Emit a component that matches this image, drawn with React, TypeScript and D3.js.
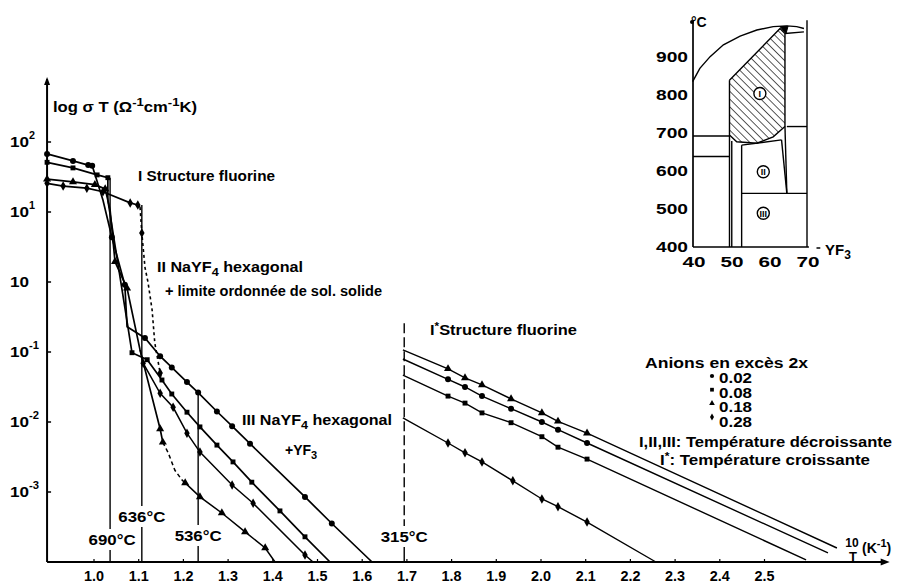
import React from "react";
import * as d3 from "d3";

type Pt = [number, number, number]; // [10^3/T (K^-1), log10(σT), 1 = plotted symbol]
type CT = [number, number]; // [mol % YF3, °C]

const FONT = "'Liberation Sans', Arial, Helvetica, sans-serif";

// ---------- main chart axes ----------
const X_TICKS = [1.0, 1.1, 1.2, 1.3, 1.4, 1.5, 1.6, 1.7, 1.8, 1.9, 2.0, 2.1, 2.2, 2.3, 2.4, 2.5];
const Y_TICK_EXP = [2, 1, 0, -1, -2, -3];
const Y_TICK_SUP = ["2", "1", "", "-1", "-2", "-3"];

// ---------- decreasing temperature (I, II, III) ----------
const decr002: Pt[] = [
  [0.895, 1.83, 1], [0.953, 1.73, 1], [0.987, 1.67, 1], [0.996, 1.66, 1],
  [1.020, 1.17, 0], [1.040, 0.64, 1], [1.069, -0.04, 1], [1.074, -0.64, 0],
  [1.114, -0.80, 1], [1.148, -1.06, 1], [1.174, -1.22, 1], [1.208, -1.43, 1],
  [1.233, -1.58, 1], [1.275, -1.85, 1], [1.309, -2.06, 1], [1.349, -2.31, 1],
  [1.472, -3.07, 1], [1.532, -3.45, 1], [1.622, -4.0, 0],
];
const decr008: Pt[] = [
  [0.895, 1.71, 1], [0.953, 1.63, 1], [1.007, 1.53, 1], [1.031, 1.49, 1],
  [1.031, 1.17, 0], [1.085, -1.01, 1], [1.119, -1.11, 1], [1.152, -1.40, 1],
  [1.174, -1.60, 1], [1.208, -1.86, 1], [1.237, -2.07, 1], [1.275, -2.33, 1],
  [1.311, -2.57, 1], [1.353, -2.86, 1], [1.416, -3.27, 1], [1.472, -3.64, 1],
  [1.528, -4.0, 0],
];
const decr018: Pt[] = [
  [0.895, 1.47, 1], [0.953, 1.43, 1], [1.002, 1.39, 1], [1.025, 1.33, 1],
  [1.036, 1.03, 0], [1.047, 0.29, 1], [1.074, -0.09, 1], [1.103, -0.97, 0],
  [1.148, -2.10, 1], [1.154, -2.29, 1],
];
const decr018Dashed: Pt[] = [
  [1.154, -2.29, 0], [1.166, -2.44, 0], [1.181, -2.69, 0], [1.197, -2.83, 0], [1.204, -2.87, 0],
];
const decr018III: Pt[] = [
  [1.204, -2.87, 1], [1.237, -3.07, 1], [1.286, -3.30, 1], [1.338, -3.57, 1],
  [1.383, -3.80, 1], [1.405, -4.0, 0],
];
const decr028: Pt[] = [
  [0.895, 1.41, 1], [0.931, 1.37, 1], [0.984, 1.34, 1], [1.020, 1.29, 1],
  [1.081, 1.13, 1], [1.098, 1.10, 1], [1.103, 1.07, 0],
];
const decr028Dashed: Pt[] = [
  [1.103, 1.07, 0], [1.107, 0.70, 1], [1.114, 0.21, 0], [1.121, -0.01, 0],
  [1.130, -0.40, 0], [1.136, -0.87, 0], [1.148, -1.30, 1], [1.152, -1.40, 0],
];
const decr028III: Pt[] = [
  [1.103, -0.97, 0], [1.110, -1.16, 1], [1.148, -1.59, 1], [1.177, -1.79, 1],
  [1.208, -2.16, 1], [1.237, -2.43, 1], [1.309, -2.90, 1], [1.356, -3.16, 1],
  [1.472, -3.90, 1], [1.490, -4.0, 0],
];

// ---------- increasing temperature (I*) ----------
const incr018: Pt[] = [
  [1.691, -0.97, 0], [1.792, -1.24, 1], [1.830, -1.37, 1], [1.868, -1.47, 1],
  [1.933, -1.67, 1], [2.002, -1.87, 1], [2.038, -1.99, 1], [2.103, -2.16, 1], [2.662, -3.80, 0],
];
const incr002: Pt[] = [
  [1.691, -1.10, 0], [1.792, -1.39, 1], [1.830, -1.50, 1], [1.868, -1.63, 1],
  [1.933, -1.81, 1], [2.002, -2.00, 1], [2.038, -2.11, 1], [2.103, -2.30, 1], [2.642, -3.87, 0],
];
const incr008: Pt[] = [
  [1.691, -1.33, 0], [1.792, -1.63, 1], [1.830, -1.73, 1], [1.868, -1.87, 1],
  [1.933, -2.01, 1], [2.002, -2.21, 1], [2.038, -2.36, 1], [2.103, -2.53, 1], [2.593, -3.97, 0],
];
const incr028: Pt[] = [
  [1.691, -1.94, 0], [1.792, -2.30, 1], [1.830, -2.44, 1], [1.868, -2.57, 1],
  [1.937, -2.84, 1], [2.002, -3.10, 1], [2.038, -3.21, 1], [2.103, -3.43, 1], [2.257, -4.0, 0],
];

// ---------- transition temperatures ----------
const TEMP_LABELS = ["690°C", "636°C", "536°C", "315°C"];
const TEMP_X = [1.036, 1.107, 1.233, 1.694];
const TEMP_TOP = [1.49, 1.10, -1.57, -0.59];

// ---------- legend ----------
const LEGEND_VALUES = ["0.02", "0.08", "0.18", "0.28"];

// ---------- inset phase diagram NaF–YF3 ----------
const INSET_Y_TICKS = [400, 500, 600, 700, 800, 900];
const INSET_X_TICKS = [40, 50, 60, 70];
const liquidus: CT[] = [
  [39.9, 835], [41.8, 870], [44.5, 901], [48, 932], [52.4, 955], [56.8, 971],
  [61.1, 980], [64.7, 982], [67.3, 980], [69.2, 975],
];
const fluoriteRegion: CT[] = [
  [49.6, 839], [49.6, 695], [51.5, 677], [56.8, 673], [61.1, 690], [64.2, 717],
  [64.2, 962], [62.9, 975],
];
const fluoriteTop: CT[] = [[62.9, 980], [65.0, 981], [64.5, 962]];
const insetBoundaries: CT[][] = [
  [[40, 692], [49.6, 692]],
  [[40, 638], [49.6, 638]],
  [[49.6, 695], [49.6, 400]],
  [[50.2, 679], [50.2, 400]],
  [[52.8, 668], [52.8, 400]],
  [[52.8, 668], [63.3, 682]],
  [[63.3, 682], [64.7, 541]],
  [[64.2, 717], [64.7, 541]],
  [[64.7, 717], [70, 717]],
  [[52.8, 541], [70, 541]],
  [[64.2, 962], [69.2, 966]],
  [[70, 997], [70, 400]],
];
const PHASE_NAMES = ["I", "II", "III"];
const PHASE_C = [57.6, 58.5, 58.5];
const PHASE_T = [804, 598, 489];

const symTypes: Record<string, d3.SymbolType> = {
  circle: d3.symbolCircle,
  square: d3.symbolSquare,
  triangle: d3.symbolTriangle,
  diamond: d3.symbolDiamond,
};
const LEGEND_SYMBOLS = ["circle", "square", "triangle", "diamond"];

const Txt = ({ x, y, size = 14, anchor = "start", len, children }: any) => (
  <text
    x={x}
    y={y}
    fontSize={size}
    textAnchor={anchor}
    fontFamily={FONT}
    fontWeight="bold"
    fill="#000"
    {...(len ? { textLength: len, lengthAdjust: "spacingAndGlyphs" } : {})}
  >
    {children}
  </text>
);

export default function App() {
  const x = d3.scaleLinear().domain([1.0, 2.5]).range([94, 764.5]);
  const y = d3.scaleLinear().domain([0, -4]).range([282, 562]);
  const line = d3.line<Pt>().x((d) => x(d[0])).y((d) => y(d[1]));
  const xi = d3.scaleLinear().domain([40, 70]).range([693, 807]);
  const yi = d3.scaleLinear().domain([400, 1000]).range([247, 19]);
  const iline = d3.line<CT>().x((d) => xi(d[0])).y((d) => yi(d[1]));
  const sym = (t: string, s: number) => d3.symbol().type(symTypes[t]).size(s)() as string;

  const x0 = x(0.895);
  const yBase = y(-4);
  const xEnd = x(2.78);

  const series: { pts: Pt[]; sym: string; w: number; dash?: string }[] = [
    { pts: decr002, sym: "circle", w: 1.7 },
    { pts: decr008, sym: "square", w: 1.7 },
    { pts: decr018, sym: "triangle", w: 1.7 },
    { pts: decr018Dashed, sym: "triangle", w: 1.5, dash: "4,3" },
    { pts: decr018III, sym: "triangle", w: 1.5 },
    { pts: decr028, sym: "diamond", w: 1.7 },
    { pts: decr028Dashed, sym: "diamond", w: 1.6, dash: "3,3" },
    { pts: decr028III, sym: "diamond", w: 1.5 },
    { pts: incr018, sym: "triangle", w: 1.4 },
    { pts: incr002, sym: "circle", w: 1.4 },
    { pts: incr008, sym: "square", w: 1.4 },
    { pts: incr028, sym: "diamond", w: 1.4 },
  ];
  const symSize: Record<string, number> = { circle: 28, square: 24, triangle: 28, diamond: 26 };
  const TEMP_LABEL_Y = [545, 522, 541, 542];
  const tb = { fontFamily: FONT, fontWeight: "bold" as const, fill: "#000" };

  return (
    <svg
      width={912}
      height={587}
      viewBox="0 0 912 587"
      style={{ position: "absolute", left: 0, top: 0, background: "#fff" }}
    >
      <defs>
        <pattern id="hatch" patternUnits="userSpaceOnUse" width={5.5} height={5.5} patternTransform="rotate(-45)">
          <line x1={0} y1={0} x2={0} y2={5.5} stroke="#000" strokeWidth={1.3} />
        </pattern>
      </defs>
      <rect width={912} height={587} fill="#fff" />

      {/* axes */}
      <line x1={x0} y1={y(2.9)} x2={x0} y2={yBase} stroke="#000" strokeWidth={2} />
      <path d={`M${x0},${y(2.93)} L${x0 - 3},${y(2.93) + 8} L${x0 + 3},${y(2.93) + 8} Z`} fill="#000" />
      <line x1={x0} y1={yBase} x2={xEnd - 6} y2={yBase} stroke="#000" strokeWidth={2} />
      <path d={`M${xEnd},${yBase} L${xEnd - 9},${yBase - 3.5} L${xEnd - 9},${yBase + 3.5} Z`} fill="#000" />

      {Y_TICK_EXP.map((e, i) => (
        <g key={"yt" + e}>
          <line x1={x0} x2={x0 + 4} y1={y(e)} y2={y(e)} stroke="#000" strokeWidth={1.5} />
          <Txt x={10} y={y(e) + 5} size={15} len={19}>10</Txt>
          {Y_TICK_SUP[i] && (
            <Txt x={29} y={y(e) - 3} size={11} len={Y_TICK_SUP[i].length > 1 ? 10 : 6}>
              {Y_TICK_SUP[i]}
            </Txt>
          )}
        </g>
      ))}

      {X_TICKS.map((v) => (
        <g key={"xt" + v}>
          <line x1={x(v)} x2={x(v)} y1={yBase} y2={yBase - 3} stroke="#000" strokeWidth={1.2} />
          <Txt x={x(v)} y={581} anchor="middle" len={20}>
            {v.toFixed(1)}
          </Txt>
        </g>
      ))}

      {/* transition temperature lines */}
      {TEMP_X.map((v, i) => {
        const xv = x(v);
        const ly = TEMP_LABEL_Y[i];
        const dash = i === 3 ? "10,4" : undefined;
        return (
          <g key={"tl" + i}>
            <line x1={xv} x2={xv} y1={y(TEMP_TOP[i])} y2={ly - 16} stroke="#000" strokeWidth={1.4} strokeDasharray={dash} />
            <line x1={xv} x2={xv} y1={ly + 5} y2={yBase} stroke="#000" strokeWidth={1.4} />
            <Txt x={xv + (i === 0 ? 2 : 0)} y={ly} anchor="middle" len={47}>
              {TEMP_LABELS[i]}
            </Txt>
          </g>
        );
      })}

      {/* data */}
      {series.map((s, i) => (
        <g key={"s" + i}>
          <path d={line(s.pts) as string} fill="none" stroke="#000" strokeWidth={s.w} strokeDasharray={s.dash} />
          {s.pts
            .filter((p) => p[2] === 1)
            .map((p, j) => (
              <path key={j} d={sym(s.sym, symSize[s.sym])} transform={`translate(${x(p[0])},${y(p[1])})`} fill="#000" />
            ))}
        </g>
      ))}

      {/* annotations */}
      <text x={53} y={112} fontSize={14} {...tb} textLength={144} lengthAdjust="spacingAndGlyphs">
        log σ T (Ω<tspan dy={-6} fontSize={11}>-1</tspan>
        <tspan dy={6}>cm</tspan>
        <tspan dy={-6} fontSize={11}>-1</tspan>
        <tspan dy={6}>K)</tspan>
      </text>
      <Txt x={138} y={181} len={137}>I Structure fluorine</Txt>
      <text x={157} y={272} fontSize={14} {...tb} textLength={146} lengthAdjust="spacingAndGlyphs">
        II NaYF<tspan dy={4} fontSize={11}>4</tspan>
        <tspan dy={-4}> hexagonal</tspan>
      </text>
      <Txt x={165} y={296} len={217}>+ limite ordonnée de sol. solide</Txt>
      <text x={242} y={425} fontSize={14} {...tb} textLength={150} lengthAdjust="spacingAndGlyphs">
        III NaYF<tspan dy={4} fontSize={11}>4</tspan>
        <tspan dy={-4}> hexagonal</tspan>
      </text>
      <text x={285} y={455} fontSize={14} {...tb}>
        +YF<tspan dy={4} fontSize={11}>3</tspan>
      </text>
      <text x={430} y={335} fontSize={14} {...tb} textLength={147} lengthAdjust="spacingAndGlyphs">
        I<tspan dy={-5} fontSize={10}>*</tspan>
        <tspan dy={5}>Structure fluorine</tspan>
      </text>

      {/* legend */}
      <Txt x={645} y={368} len={163}>Anions en excès 2x</Txt>
      {LEGEND_VALUES.map((v, i) => (
        <g key={"lg" + i}>
          <path d={sym(LEGEND_SYMBOLS[i], 14)} transform={`translate(712,${376 + i * 13.7})`} fill="#000" />
          <Txt x={719} y={383 + i * 14.7} len={33}>{v}</Txt>
        </g>
      ))}
      <Txt x={639} y={447} len={253}>I,II,III: Température décroissante</Txt>
      <text x={660} y={465} fontSize={14} {...tb} textLength={210} lengthAdjust="spacingAndGlyphs">
        I<tspan dy={-5} fontSize={10}>*</tspan>
        <tspan dy={5}>: Température croissante</tspan>
      </text>

      {/* x axis title */}
      <Txt x={852} y={547} size={12} anchor="middle">10</Txt>
      <Txt x={853} y={561} size={13} anchor="middle">T</Txt>
      <text x={862} y={553} fontSize={14} {...tb}>
        (K<tspan dy={-6} fontSize={11}>-1</tspan>
        <tspan dy={6}>)</tspan>
      </text>

      {/* inset phase diagram */}
      <g>
        <path d={iline(fluoriteRegion.concat([fluoriteRegion[0]])) as string} fill="url(#hatch)" stroke="#000" strokeWidth={1.4} />
        <path d={iline(fluoriteTop.concat([fluoriteTop[0]])) as string} fill="#000" stroke="#000" strokeWidth={1} />
        <path d={iline(liquidus) as string} fill="none" stroke="#000" strokeWidth={1.4} />
        {insetBoundaries.map((b, i) => (
          <path key={"ib" + i} d={iline(b) as string} fill="none" stroke="#000" strokeWidth={1.4} />
        ))}
        <line x1={xi(40)} x2={xi(40)} y1={yi(400)} y2={yi(995)} stroke="#000" strokeWidth={1.7} />
        <circle cx={xi(40) - 1} cy={yi(992)} r={2} fill="#000" />
        <line x1={xi(40)} x2={xi(70.5)} y1={yi(400)} y2={yi(400)} stroke="#000" strokeWidth={1.7} />
        <line x1={xi(72.5)} x2={xi(73.5)} y1={yi(400) + 1} y2={yi(400) + 1} stroke="#000" strokeWidth={1.5} />
        <Txt x={xi(40) - 2} y={27} size={14}>°C</Txt>
        {INSET_Y_TICKS.map((t) => (
          <Txt key={"iy" + t} x={xi(40) - 5} y={yi(t) + 5} anchor="end" len={32}>
            {t}
          </Txt>
        ))}
        {INSET_X_TICKS.map((c) => (
          <Txt key={"ix" + c} x={xi(c) + 1} y={267} anchor="middle" len={23}>
            {c}
          </Txt>
        ))}
        <text x={825} y={255} fontSize={15} {...tb}>
          YF<tspan dy={4} fontSize={12}>3</tspan>
        </text>
        {PHASE_NAMES.map((n, i) => (
          <g key={"ph" + n}>
            <circle cx={xi(PHASE_C[i])} cy={yi(PHASE_T[i])} r={6} fill="#fff" stroke="#000" strokeWidth={1.4} />
            <text
              x={xi(PHASE_C[i])}
              y={yi(PHASE_T[i]) + 3.5}
              fontSize={9}
              fontWeight="bold"
              fontFamily={FONT}
              textAnchor="middle"
            >
              {n}
            </text>
          </g>
        ))}
      </g>
    </svg>
  );
}
